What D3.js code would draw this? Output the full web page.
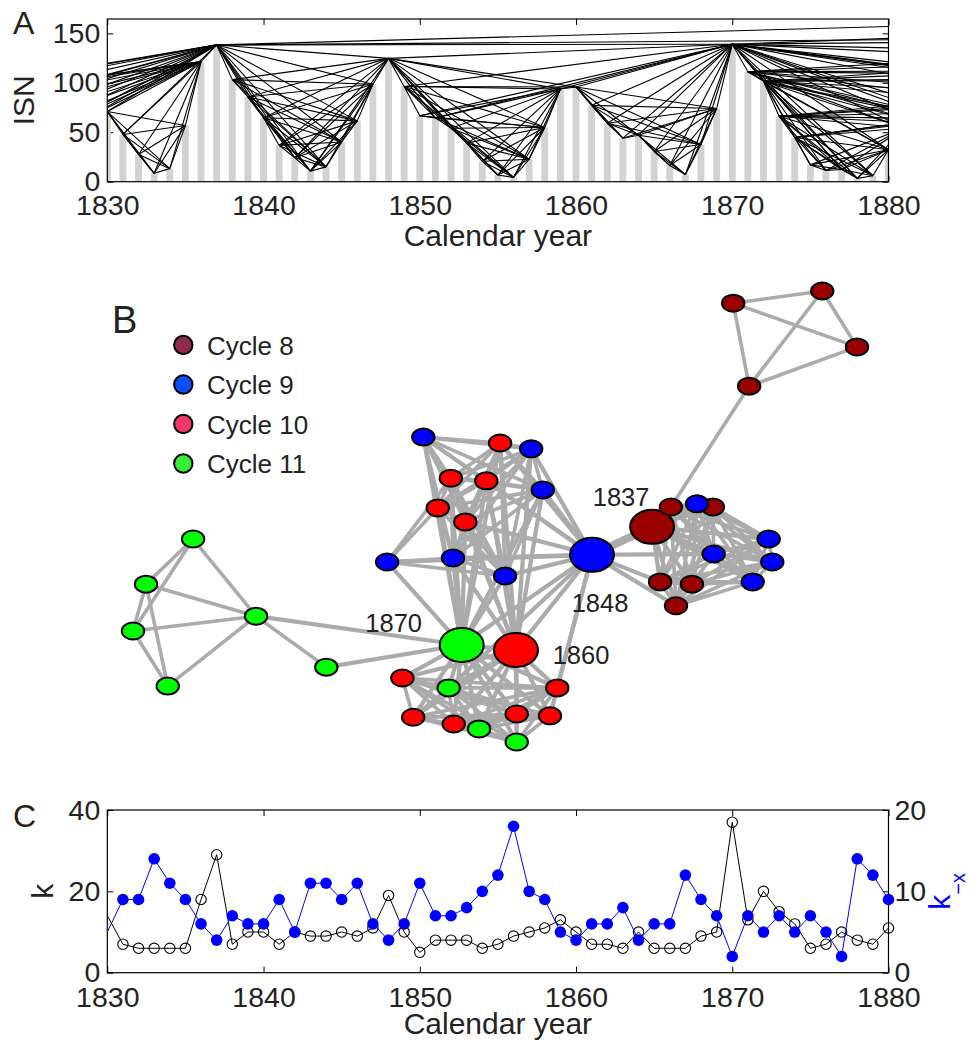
<!DOCTYPE html>
<html><head><meta charset="utf-8">
<script src="https://cdn.jsdelivr.net/npm/d3@7"></script>
<style>
body{margin:0;background:#fff}
svg{display:block}
</style>
</head><body>
<svg id="chart" width="973" height="1044"></svg>
<script>
// ================= DATA =================
// Yearly International Sunspot Number (ISN) used for the visibility graph of panel A
const isnFirstYear = 1800;
const isnBefore = [14.5,34.0,45.0,43.1,47.5,42.2,28.1,10.1,8.1,2.5,0.0,1.4,5.0,12.2,13.9,35.4,45.8,41.1,30.1,23.9,
  15.6,6.6,4.0,1.8,8.5,16.6,36.3,49.6,64.2,67.0];
const isnShown = [70.9,47.8,27.5,8.5,13.2,56.9,121.5,138.3,103.2,85.7,
  64.6,36.7,24.2,10.7,15.0,40.1,61.5,98.5,124.7,96.3,
  66.6,64.5,54.1,39.0,20.6,6.7,4.3,22.7,54.8,93.8,
  95.8,77.2,59.1,44.0,47.0,30.5,16.3,7.3,37.6,74.0,
  139.0,111.2,101.6,66.2,44.7,17.0,11.3,12.4,3.4,6.0,32.3];
const isnAfter = [54.3,59.7,63.7,63.5,52.2,25.4,13.1,6.8,6.3,7.1,
  35.6,73.0,85.1,78.0,64.0,41.8,26.2,26.7,12.1,9.5,
  2.7,5.0,24.4,42.0,63.5,53.8,62.0,48.5,43.9,18.6,
  5.7,3.6,1.4,9.6,47.4,57.1,103.9,80.6,63.6,37.6,
  26.1,14.2,5.8,16.7,44.3,63.9,69.0,77.8,64.9,35.7,
  21.2,11.1,5.7,8.7,36.1,79.7,114.4,109.6,88.8,67.8,
  47.5,30.6,16.3,9.6,33.2,92.6,151.6,136.3,134.7,83.9,
  69.4,31.5,13.9,4.4,38.0,141.7,190.2,184.8,159.0,112.3];

const yearRange = [1830, 1880];
const yearTicks = [1830,1840,1850,1860,1870,1880];
const isnTicks = [0,50,100,150];
const isnMax = 164.5;

// Panel C : degree k (black) and k_-x (blue), 1830..1880
const kFirstYear = 1830;
const kValues = [14,7,6,6,6,6,18,29,7,10, 10,7,10,9,9,10,9,11,19,10, 5,8,8,8,6,7,9,10,11,13,
  10,7,7,6,10,6,6,6,9,10, 37,13,20,15,12,6,7,10,8,7, 11];
const kxValues = [5,9,9,14,11,9,6,4,7,6, 6,9,5,11,11,9,11,6,4,6, 11,7,7,8,10,12,18,10,9,5,
  4,6,6,8,4,6,6,12,9,7, 2,7,5,7,5,7,5,2,14,12, 9];
const kTicks = [0,20,40];
const kxTicks = [0,10,20];

// Panel B : network nodes [id, solar cycle, layoutX, layoutY] (layout units 0..100)
const networkNodes = [
  ["t1",8,82.9,2.7],["t2",8,95.2,0],["t3",8,100,12.4],["t4",8,85.1,21.1],
  ["d0",8,71.7,52.3],["d2",8,80.1,47.9],["d1",8,74.3,47.9],["b1",9,77.9,47.2],
  ["b2",9,87.8,55.0],["b3",9,80.2,58.3],["b4",9,88.3,60.1],["b5",9,85.6,64.5],
  ["d3",8,72.8,64.5],["d4",8,77.2,65.0],["d5",8,75.0,69.8],
  ["B0",9,63.4,58.5],
  ["n1",9,40.1,32.4],["n2",10,50.7,33.7],["n3",9,55.0,35.0],["n4",10,43.9,41.5],
  ["n5",10,48.8,42.1],["n6",9,56.6,44.1],["n7",10,42.1,48.1],["n8",10,45.9,51.2],
  ["n9",9,44.2,59.2],["n10",9,35.1,60.1],["n11",9,51.4,63.2],
  ["H70",11,45.4,78.5],["H60",10,52.9,79.6],
  ["r1",10,37.2,85.8],["g1",11,43.6,88.0],["r2",10,58.6,88.0],["r3",10,38.7,94.5],
  ["r4",10,44.3,96.0],["g2",11,47.8,97.1],["r5",10,53.0,93.8],["r6",10,57.6,94.2],["g3",11,53.0,100],
  ["G1",11,8.3,55.0],["G2",11,1.8,65.0],["G3",11,0,75.4],["G4",11,4.8,87.6],["G5",11,17.0,72.1],["G6",11,26.7,83.4]
];
// peak years (hubs)
const peakLabels = [["d0","1837"],["B0","1848"],["H60","1860"],["H70","1870"]];
// adjacency: "node:neighbours"
const networkLinks = [
  "t1:t2 t3 t4","t2:t3 t4","t3:t4","t4:d1",
  "d0:d1 b1 d2 b2 b3 b4 b5 d3 d4 d5 B0",
  "d1:b1 d2 b2 b3 b4 b5 d3 d4 d5",
  "b1:d2 b2 b3 b4 b5 d3 d4 d5",
  "d2:b2 b3 b4 b5 d3 d4 d5",
  "b2:b3 b4 b5 d3 d4 d5",
  "b3:b4 b5 d3 d4 d5 B0",
  "b4:b5 d3 d4 d5","b5:d3 d4 d5","d3:d4 d5 B0","d4:d5","d5:B0",
  "B0:n1 n2 n3 n5 n6 n8 n9 n10 n11 H70 H60 r2 r6 g1",
  "n1:n2 n3 n4 n5 n6 n7 n8 n9 n11 H70",
  "n2:n3 n4 n5 n6 n7 n8 n9 n11 H70 H60",
  "n3:n4 n5 n6 n7 n8 n9 n11 H60",
  "n4:n5 n6 n7 n8 n9 n10 n11 H70 H60",
  "n5:n6 n7 n8 n9 n11 H70 H60",
  "n6:n7 n8 n9 n11 H60 H70",
  "n7:n8 n9 n10 n11 H70",
  "n8:n9 n11 H70 H60",
  "n9:n10 n11 H70 H60",
  "n10:n11 H70","n11:H70 H60",
  "H70:H60 r1 g1 r2 r3 r4 g2 r5 r6 g3 G5 G6",
  "H60:r1 g1 r2 r3 r4 g2 r5 r6 g3",
  "r1:g1 r2 r3 r4 g2 r5 r6 g3","g1:r2 r3 r4 g2 r5 r6 g3","r2:r3 r4 g2 r5 r6 g3",
  "r3:r4 g2 r5 r6 g3","r4:g2 r5 r6 g3","g2:r5 r6 g3","r5:r6 g3","r6:g3",
  "G1:G2 G3 G5","G2:G3 G4 G5","G3:G4 G5","G4:G5","G5:G6"
];
const legendCycles = [8,9,10,11];
const legendLabels = ["Cycle 8","Cycle 9","Cycle 10","Cycle 11"];

// ================= STYLE =================
const FONT = "'Liberation Sans', Arial, Helvetica, sans-serif";
const TXT = "#222";
const nodeColor = {8:"#990000",9:"#0000ff",10:"#ff0000",11:"#00ff00"};
const legendColor = {8:"#8f2b4e",9:"#0b4dff",10:"#f2386b",11:"#35ee35"};
const labelOffset = {d0:[-31,-21],B0:[8,57],H60:[65,14],H70:[-68,-13]};

const svg = d3.select("#chart");
const defs = svg.append("defs");

function styleAxis(g, size){
  g.select(".domain").remove();
  g.attr("font-family", null).attr("font-size", null);
  g.selectAll(".tick line").attr("stroke","#000").attr("stroke-width",1);
  g.selectAll(".tick text").attr("font-family",FONT).attr("font-size",size).attr("fill",TXT);
}

// ================= PANEL A =================
const A = {l:107.3, r:888.5, t:19, b:181.7};
const xA = d3.scaleLinear(yearRange,[A.l,A.r]);
const yA = d3.scaleLinear([0,isnMax],[A.b,A.t]);

const isnAll = isnBefore.concat(isnShown, isnAfter);
const isnYears = isnAll.map((_,i)=> isnFirstYear + i);

defs.append("clipPath").attr("id","clipA").append("rect")
  .attr("x",A.l).attr("y",A.t).attr("width",A.r-A.l).attr("height",A.b-A.t);

const gA = svg.append("g");
gA.append("g").attr("transform",`translate(0,${A.b})`)
  .call(d3.axisBottom(xA).tickValues(yearTicks).tickFormat(d3.format("d")).tickSize(-6).tickPadding(13))
  .call(g=>styleAxis(g,28.5));
gA.append("g").attr("transform",`translate(0,${A.t})`)
  .call(d3.axisTop(xA).tickValues(yearTicks).tickFormat("").tickSize(-6)).call(g=>styleAxis(g,28));
gA.append("g").attr("transform",`translate(${A.l},0)`)
  .call(d3.axisLeft(yA).tickValues(isnTicks).tickSize(-6).tickPadding(7))
  .call(g=>styleAxis(g,28.5));
gA.append("g").attr("transform",`translate(${A.r},0)`)
  .call(d3.axisRight(yA).tickValues(isnTicks).tickFormat("").tickSize(-6)).call(g=>styleAxis(g,28));

const clipped = gA.append("g").attr("clip-path","url(#clipA)");
const barW = xA(yearRange[0]+0.44) - xA(yearRange[0]);
clipped.selectAll("rect.bar").data(isnShown).join("rect").attr("class","bar")
  .attr("x",(d,i)=> xA(yearRange[0]+i) - barW/2)
  .attr("y",d=> yA(d)).attr("width",barW).attr("height",d=> yA(0)-yA(d))
  .attr("fill","#d2d2d2");

// natural visibility graph
const visEdges = [];
for (let i=0;i<isnAll.length;i++){
  for (let j=i+1;j<isnAll.length;j++){
    const ti=isnYears[i], tj=isnYears[j];
    if (ti>yearRange[1] || tj<yearRange[0]) continue;
    const yi=isnAll[i], yj=isnAll[j];
    let ok=true;
    for (let k=i+1;k<j;k++){
      const lim = yj + (yi-yj)*(tj-isnYears[k])/(tj-ti);
      if (isnAll[k] >= lim){ ok=false; break; }
    }
    if (ok) visEdges.push([i,j]);
  }
}
clipped.selectAll("line.vis").data(visEdges).join("line").attr("class","vis")
  .attr("x1",d=>xA(isnYears[d[0]])).attr("y1",d=>yA(isnAll[d[0]]))
  .attr("x2",d=>xA(isnYears[d[1]])).attr("y2",d=>yA(isnAll[d[1]]))
  .attr("stroke","#000").attr("stroke-width",1.1);

gA.append("rect").attr("x",A.l).attr("y",A.t).attr("width",A.r-A.l).attr("height",A.b-A.t)
  .attr("fill","none").attr("stroke","#000").attr("stroke-width",1.2);

svg.append("text").attr("x",13).attr("y",34).text("A")
  .attr("font-family",FONT).attr("font-size",32).attr("fill",TXT);
svg.append("text").attr("transform",`translate(34,${(A.t+A.b)/2}) rotate(-90)`).attr("text-anchor","middle")
  .text("ISN").attr("font-family",FONT).attr("font-size",30).attr("fill",TXT);
svg.append("text").attr("x",(A.l+A.r)/2).attr("y",246).attr("text-anchor","middle")
  .text("Calendar year").attr("font-family",FONT).attr("font-size",30).attr("fill",TXT);

// ================= PANEL B =================
const xB = d3.scaleLinear([0,100],[133,857]);
const yB = d3.scaleLinear([0,100],[291,742]);
const nodeById = new Map(networkNodes.map(n=>[n[0],{id:n[0],cycle:n[1],x:xB(n[2]),y:yB(n[3])}]));
const hubSet = new Set(peakLabels.map(p=>p[0]));
const links = [];
networkLinks.forEach(s=>{
  const [src, rest] = s.split(":");
  rest.trim().split(/\s+/).forEach(t=> links.push([src,t]));
});
function linkWidth(a,b){
  if ((a==="d0"&&b==="B0")||(a==="B0"&&b==="d0")) return 8;
  if (hubSet.has(a)||hubSet.has(b)) return 4.2;
  return 3.6;
}
const gB = svg.append("g");
gB.selectAll("line.link").data(links).join("line").attr("class","link")
  .attr("x1",d=>nodeById.get(d[0]).x).attr("y1",d=>nodeById.get(d[0]).y)
  .attr("x2",d=>nodeById.get(d[1]).x).attr("y2",d=>nodeById.get(d[1]).y)
  .attr("stroke","#ababab").attr("stroke-width",d=>linkWidth(d[0],d[1])).attr("stroke-linecap","round");

gB.selectAll("ellipse.node").data(networkNodes.map(n=>nodeById.get(n[0]))).join("ellipse").attr("class","node")
  .attr("cx",d=>d.x).attr("cy",d=>d.y)
  .attr("rx",d=> hubSet.has(d.id)? 22 : 11.2)
  .attr("ry",d=> hubSet.has(d.id)? 17 : 8.5)
  .attr("fill",d=>nodeColor[d.cycle]).attr("stroke","#000").attr("stroke-width",2);

gB.selectAll("text.peak").data(peakLabels).join("text").attr("class","peak")
  .attr("x",d=> nodeById.get(d[0]).x + labelOffset[d[0]][0])
  .attr("y",d=> nodeById.get(d[0]).y + labelOffset[d[0]][1])
  .attr("text-anchor","middle").text(d=>d[1])
  .attr("font-family",FONT).attr("font-size",25.5).attr("fill",TXT);

svg.append("text").attr("x",112).attr("y",333).text("B")
  .attr("font-family",FONT).attr("font-size",38).attr("fill",TXT);

const leg = svg.append("g");
legendCycles.forEach((c,i)=>{
  const cy = 345 + i*39.5;
  leg.append("circle").attr("cx",183.3).attr("cy",cy).attr("r",9.2)
    .attr("fill",legendColor[c]).attr("stroke","#000").attr("stroke-width",2);
  leg.append("text").attr("x",207).attr("y",cy+9.5).text(legendLabels[i])
    .attr("font-family",FONT).attr("font-size",26).attr("fill",TXT);
});

// ================= PANEL C =================
const C = {l:107.3, r:888.5, t:810, b:972.7};
const xC = d3.scaleLinear(yearRange,[C.l,C.r]);
const yK = d3.scaleLinear([0,40],[C.b,C.t]);
const yX = d3.scaleLinear([0,20],[C.b,C.t]);
const kYears = kValues.map((_,i)=> kFirstYear + i);

const gC = svg.append("g");
gC.append("g").attr("transform",`translate(0,${C.b})`)
  .call(d3.axisBottom(xC).tickValues(yearTicks).tickFormat(d3.format("d")).tickSize(-6).tickPadding(14))
  .call(g=>styleAxis(g,28.5));
gC.append("g").attr("transform",`translate(0,${C.t})`)
  .call(d3.axisTop(xC).tickValues(yearTicks).tickFormat("").tickSize(-6)).call(g=>styleAxis(g,28));
gC.append("g").attr("transform",`translate(${C.l},0)`)
  .call(d3.axisLeft(yK).tickValues(kTicks).tickSize(-6).tickPadding(7))
  .call(g=>styleAxis(g,28.5));
gC.append("g").attr("transform",`translate(${C.r},0)`)
  .call(d3.axisRight(yX).tickValues(kxTicks).tickSize(-6).tickPadding(6))
  .call(g=>styleAxis(g,28.5));
gC.append("rect").attr("x",C.l).attr("y",C.t).attr("width",C.r-C.l).attr("height",C.b-C.t)
  .attr("fill","none").attr("stroke","#000").attr("stroke-width",1.2);

const lineK = d3.line().x((d,i)=>xC(kYears[i])).y(d=>yK(d));
const lineX = d3.line().x((d,i)=>xC(kYears[i])).y(d=>yX(d));
gC.append("path").attr("d",lineK(kValues)).attr("fill","none").attr("stroke","#000").attr("stroke-width",1);
const markK = kValues.map((v,i)=>({y:kYears[i],v})).filter(d=>d.y>yearRange[0]);
gC.selectAll("circle.k").data(markK).join("circle").attr("class","k")
  .attr("cx",d=>xC(d.y)).attr("cy",d=>yK(d.v)).attr("r",5.2)
  .attr("fill","none").attr("stroke","#000").attr("stroke-width",1.1);
gC.append("path").attr("d",lineX(kxValues)).attr("fill","none").attr("stroke","#0000ff").attr("stroke-width",1);
const markX = kxValues.map((v,i)=>({y:kYears[i],v})).filter(d=>d.y>yearRange[0]);
gC.selectAll("circle.kx").data(markX).join("circle").attr("class","kx")
  .attr("cx",d=>xC(d.y)).attr("cy",d=>yX(d.v)).attr("r",5.8).attr("fill","#0000ff");

svg.append("text").attr("x",13).attr("y",827).text("C")
  .attr("font-family",FONT).attr("font-size",32).attr("fill",TXT);
svg.append("text").attr("transform",`translate(53,${(C.t+C.b)/2}) rotate(-90)`).attr("text-anchor","middle")
  .text("k").attr("font-family",FONT).attr("font-size",30).attr("fill",TXT);
const kxLab = svg.append("text").attr("transform",`translate(950,${(C.t+C.b)/2}) rotate(-90)`)
  .attr("text-anchor","middle").attr("font-family",FONT).attr("fill","#0000ff");
kxLab.append("tspan").text("k").attr("font-size",30);
kxLab.append("tspan").text("\u2212x").attr("font-size",20).attr("dy",15);

svg.append("text").attr("x",(C.l+C.r)/2).attr("y",1034).attr("text-anchor","middle")
  .text("Calendar year").attr("font-family",FONT).attr("font-size",30).attr("fill",TXT);
</script>
</body></html>
